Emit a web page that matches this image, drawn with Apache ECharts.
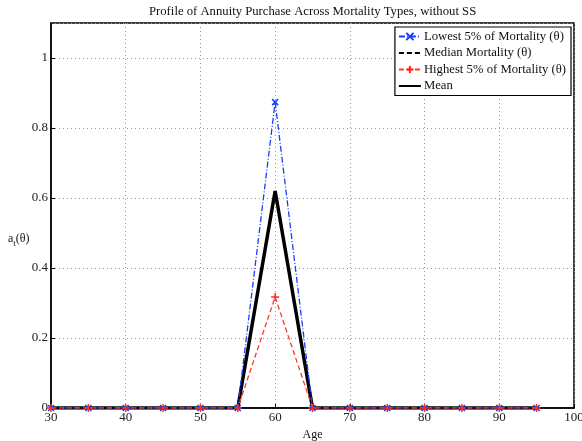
<!DOCTYPE html>
<html>
<head>
<meta charset="utf-8">
<script src="https://cdn.jsdelivr.net/npm/echarts@6/dist/echarts.min.js"></script>
<style>
html,body{margin:0;padding:0;background:#fff;}
#chart{width:582px;height:441px;}
</style>
</head>
<body>
<div id="chart"></div>
<script>
// Ages at which the annuity purchase share is recorded
const ages = [30, 35, 40, 45, 50, 55, 60, 65, 70, 75, 80, 85, 90, 95];
// Share of wealth annuitised, by mortality type
const lowest5  = [0, 0, 0, 0, 0, 0, 0.874, 0, 0, 0, 0, 0, 0, 0];
const median   = [0, 0, 0, 0, 0, 0, 0.62, 0, 0, 0, 0, 0, 0, 0];
const highest5 = [0, 0, 0, 0, 0, 0, 0.317, 0, 0, 0, 0, 0, 0, 0];
const meanVals = [0, 0, 0, 0, 0, 0, 0.62, 0, 0, 0, 0, 0, 0, 0];

const seriesNames = ['Lowest 5% of Mortality (\u03b8)', 'Median Mortality (\u03b8)', 'Highest 5% of Mortality (\u03b8)', 'Mean'];
const titleText = 'Profile of Annuity Purchase Across Mortality Types, without SS';

const serif = '"Liberation Serif", "DejaVu Serif", serif';
const pairs = v => ages.map((a, i) => [a, v[i]]);

const xMark = 'path://M0,0L10,10M10,0L0,10';
const plusMark = 'path://M5,0L5,10M0,5L10,5';

// Series drawn without markers keep only their line sample in the legend
const hiddenMark = {itemStyle: {opacity: 0}};

const chart = echarts.init(document.getElementById('chart'));
chart.setOption({
  animation: false,
  title: {
    text: titleText, left: 144, top: 0,
    textStyle: {fontFamily: serif, fontSize: 12.7, fontWeight: 'normal', color: '#111'}
  },
  grid: {left: 51, right: 8, top: 23, bottom: 33, outerBoundsMode: 'none',
    show: true, borderColor: '#000', borderWidth: 1.5},
  legend: {
    right: 11, top: 27, orient: 'vertical', itemGap: 3.5, itemWidth: 22, itemHeight: 9,
    backgroundColor: '#fff', borderColor: '#000', borderWidth: 1.2, padding: [3, 5, 3, 3],
    textStyle: {fontFamily: serif, fontSize: 12.7, color: '#111', padding: [0, 0, 0, -2]},
    data: [
      {name: seriesNames[0]},
      Object.assign({name: seriesNames[1]}, hiddenMark),
      {name: seriesNames[2]},
      Object.assign({name: seriesNames[3]}, hiddenMark)
    ]
  },
  xAxis: {
    type: 'value', min: 30, max: 100, interval: 10,
    name: 'Age', nameLocation: 'middle', nameGap: 18,
    nameTextStyle: {fontFamily: serif, fontSize: 12, color: '#111'},
    axisLine: {lineStyle: {color: '#000', width: 1.5}},
    axisTick: {inside: true, length: 4, lineStyle: {color: '#000'}},
    axisLabel: {fontFamily: serif, fontSize: 13, color: '#222', margin: 3},
    splitLine: {show: true, lineStyle: {type: [1, 3], color: '#999'}}
  },
  yAxis: {
    type: 'value', min: 0, max: 1.1, interval: 0.2,
    axisLine: {show: true, lineStyle: {color: '#000', width: 1.5}},
    axisTick: {show: true, inside: true, length: 4, lineStyle: {color: '#000'}},
    axisLabel: {fontFamily: serif, fontSize: 13, color: '#222', margin: 3, showMaxLabel: false,
      formatter: v => (Math.round(v * 10) / 10).toString()},
    splitLine: {show: true, lineStyle: {type: [1, 3], color: '#999'}}
  },
  graphic: [{
    type: 'text', left: 8, top: 233,
    style: {
      text: '{a|a}{s|t}{a|(\u03b8)}',
      rich: {
        a: {fontFamily: serif, fontSize: 12, fill: '#111'},
        s: {fontFamily: serif, fontSize: 9, fill: '#111', padding: [9, 0, 0, 0]}
      }
    }
  }],
  series: [
    {
      name: seriesNames[0], type: 'line', data: pairs(lowest5), z: 3,
      symbol: xMark, symbolSize: 6,
      itemStyle: {color: '#1a3cff', borderColor: '#1a3cff', borderWidth: 1.5},
      lineStyle: {color: '#1a3cff', width: 1.3, type: [6, 2, 1, 2]}
    },
    {
      name: seriesNames[1], type: 'line', data: pairs(median), z: 2,
      symbol: 'circle', showSymbol: false,
      itemStyle: {color: '#000'},
      lineStyle: {color: '#000', width: 1.3, type: [5, 3]}
    },
    {
      name: seriesNames[2], type: 'line', data: pairs(highest5), z: 4,
      symbol: plusMark, symbolSize: 8,
      itemStyle: {color: '#ff2a1a', borderColor: '#ff2a1a', borderWidth: 1.5},
      lineStyle: {color: '#ff3a1f', width: 1.3, type: [5, 3]}
    },
    {
      name: seriesNames[3], type: 'line', data: pairs(meanVals), z: 1,
      symbol: 'circle', showSymbol: false,
      itemStyle: {color: '#000'},
      lineStyle: {color: '#000', width: 3.5}
    }
  ]
});
</script>
</body>
</html>
